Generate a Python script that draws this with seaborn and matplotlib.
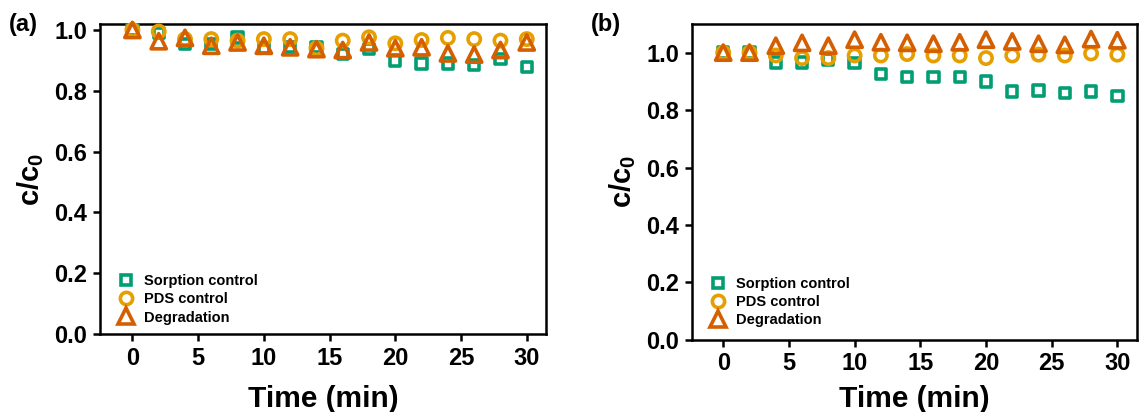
import numpy as np
import pandas as pd
import matplotlib
matplotlib.use("Agg")
import matplotlib.pyplot as plt
import seaborn as sns

# Sampling times (min)
time_min = [0, 2, 4, 6, 8, 10, 12, 14, 16, 18, 20, 22, 24, 26, 28, 30]

# Panel (a) normalised concentrations c/c0
a_sorption = [1.00, 0.99, 0.955, 0.955, 0.975, 0.94, 0.945, 0.943, 0.92, 0.937,
              0.90, 0.89, 0.89, 0.886, 0.904, 0.879]
a_pds = [1.00, 0.995, 0.97, 0.97, 0.965, 0.97, 0.97, 0.94, 0.965, 0.976,
         0.956, 0.967, 0.974, 0.97, 0.965, 0.97]
a_degradation = [1.00, 0.963, 0.974, 0.948, 0.959, 0.948, 0.943, 0.937, 0.934, 0.959,
                 0.94, 0.943, 0.923, 0.919, 0.934, 0.959]

# Panel (b) normalised concentrations c/c0
b_sorption = [1.00, 1.00, 0.966, 0.966, 0.976, 0.964, 0.926, 0.914, 0.914, 0.914,
              0.899, 0.865, 0.868, 0.860, 0.865, 0.848]
b_pds = [1.00, 1.00, 0.99, 0.981, 0.981, 0.99, 0.99, 0.995, 0.99, 0.99,
         0.981, 0.99, 0.993, 0.99, 0.997, 0.993]
b_degradation = [1.00, 1.00, 1.024, 1.034, 1.024, 1.045, 1.036, 1.034, 1.031, 1.036,
                 1.045, 1.039, 1.031, 1.027, 1.047, 1.043]

series_names = ["Sorption control", "PDS control", "Degradation"]
panel_labels = ["(a)", "(b)"]
y_ticks = [0.0, 0.2, 0.4, 0.6, 0.8, 1.0]
x_ticks = [0, 5, 10, 15, 20, 25, 30]

sns.set_theme(style="ticks")
plt.rcParams["font.family"] = ["Liberation Sans", "DejaVu Sans"]
plt.rcParams["font.weight"] = "bold"
plt.rcParams["text.color"] = "black"
plt.rcParams["axes.labelcolor"] = "black"
plt.rcParams["xtick.color"] = "black"
plt.rcParams["ytick.color"] = "black"
plt.rcParams["mathtext.fontset"] = "custom"
plt.rcParams["mathtext.rm"] = "Liberation Sans:bold"
plt.rcParams["mathtext.bf"] = "Liberation Sans:bold"
plt.rcParams["mathtext.it"] = "Liberation Sans:bold"

colors = {"Sorption control": "#029e73", "PDS control": "#e69f00", "Degradation": "#d55e00"}
markers = {"Sorption control": "s", "PDS control": "o", "Degradation": "^"}
sizes = {"Sorption control": 55, "PDS control": 78, "Degradation": 120}
edge_w = 2.6


def build_frame(sorption, pds, degradation):
    frames = []
    for name, vals in zip(series_names, [sorption, pds, degradation]):
        frames.append(pd.DataFrame({"time": time_min, "c": vals, "series": name}))
    return pd.concat(frames, ignore_index=True)


df_a = build_frame(a_sorption, a_pds, a_degradation)
df_b = build_frame(b_sorption, b_pds, b_degradation)

fig = plt.figure(figsize=(11.39, 4.12), dpi=100)
ax_a = fig.add_axes([0.0874, 0.189, 0.3924, 0.753])
ax_b = fig.add_axes([0.6073, 0.175, 0.391, 0.767])


def draw_panel(ax, df, ylim, xlim, leg_anchor, xlabel_pad):
    handles = []
    for name in series_names:
        sub = df[df["series"] == name]
        n_before = len(ax.collections)
        sns.scatterplot(data=sub, x="time", y="c", ax=ax, marker=markers[name],
                        s=sizes[name], linewidth=edge_w, legend=False, zorder=3)
        coll = ax.collections[n_before]
        coll.set_facecolor("none")
        coll.set_edgecolor(colors[name])
        coll.set_clip_on(False)
        handles.append(plt.Line2D([], [], linestyle="", marker=markers[name],
                                  markersize=np.sqrt(sizes[name]),
                                  markerfacecolor="none",
                                  markeredgecolor=colors[name],
                                  markeredgewidth=edge_w, label=name))
    ax.set_xlim(*xlim)
    ax.set_ylim(*ylim)
    ax.set_xticks(x_ticks)
    ax.set_yticks(y_ticks)
    ax.set_yticklabels([f"{v:.1f}" for v in y_ticks])
    ax.tick_params(axis="both", direction="out", length=5, width=1.8,
                   labelsize=17, pad=4)
    for lab in ax.get_xticklabels() + ax.get_yticklabels():
        lab.set_fontweight("bold")
    for sp in ax.spines.values():
        sp.set_linewidth(1.8)
        sp.set_color("black")
    ax.set_xlabel("Time (min)", fontsize=21.5, fontweight="bold", labelpad=xlabel_pad)
    ax.set_ylabel(r"$\mathbf{c/c_0}$", fontsize=21, fontweight="bold", labelpad=6)
    ax.legend(handles=handles, loc="lower left", bbox_to_anchor=leg_anchor,
              frameon=False, prop={"weight": "bold", "size": 10.5},
              handletextpad=0.7, labelspacing=0.3, handlelength=1.0,
              borderaxespad=0)


draw_panel(ax_a, df_a, (0, 1.02), (-2.5, 31.5), (0.03, 0.012), 11)
draw_panel(ax_b, df_b, (0, 1.1), (-2.4, 31.5), (0.03, 0.021), 7)

fig.text(0.008, 0.925, panel_labels[0], fontsize=17, fontweight="bold")
fig.text(0.519, 0.925, panel_labels[1], fontsize=17, fontweight="bold")

fig.savefig("out.png", dpi=100)
